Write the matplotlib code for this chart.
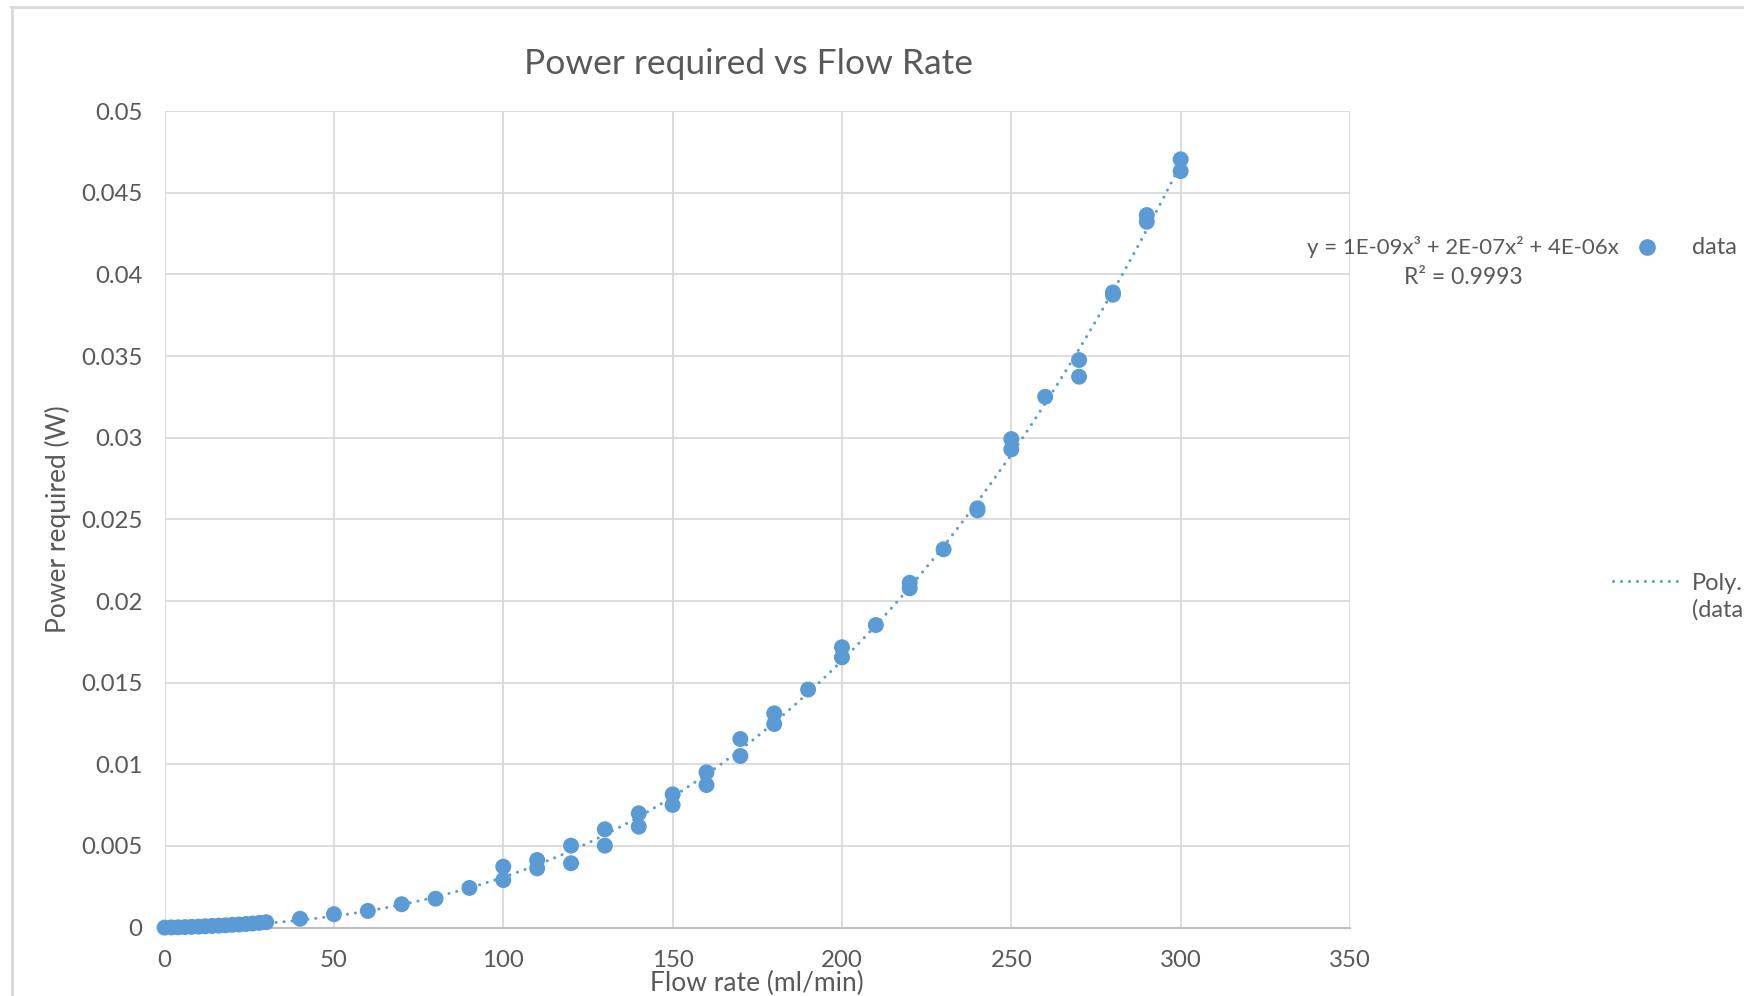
import numpy as np
import matplotlib.pyplot as plt
from matplotlib.lines import Line2D

plt.rcParams['font.family'] = ['Lato', 'DejaVu Sans']

# flow rate (ml/min) and power required (W)
flow = [0, 2, 4, 6, 8, 10, 12, 14, 16, 18, 20, 22, 24, 26, 28, 30,
        40, 50, 60, 70, 80, 90,
        100, 100, 110, 110, 120, 120, 130, 130, 140, 140, 150, 150,
        160, 160, 170, 170, 180, 180, 190, 200, 200, 210, 220, 220,
        230, 240, 240, 250, 250, 260, 270, 270, 280, 280, 290, 290,
        300, 300]
power = [0.0, 0.00001, 0.00002, 0.00003, 0.000045, 0.00006, 0.00008, 0.0001,
         0.00012, 0.00014, 0.00017, 0.00019, 0.00022, 0.00025, 0.00029, 0.00033,
         0.00054, 0.00082, 0.00102, 0.00143, 0.00177, 0.00243,
         0.00373, 0.00291, 0.00414, 0.00363, 0.00502, 0.00394, 0.00602, 0.00502,
         0.0070, 0.00618, 0.00816, 0.00751, 0.00951, 0.00873, 0.01155, 0.01051,
         0.01312, 0.01247, 0.01458, 0.01717, 0.01655, 0.01853, 0.02112, 0.02078,
         0.02317, 0.02568, 0.02555, 0.02992, 0.02929, 0.03251, 0.03476, 0.03374,
         0.03890, 0.03876, 0.04364, 0.04323, 0.04705, 0.04633]

xticks = [0, 50, 100, 150, 200, 250, 300, 350]
yticks = [0, 0.005, 0.01, 0.015, 0.02, 0.025, 0.03, 0.035, 0.04, 0.045, 0.05]

blue = '#5B9BD5'
grey_txt = '#595959'
grid_c = '#D9D9D9'

W, H = 1744, 996
fig = plt.figure(figsize=(W / 100, H / 100), dpi=100)
ax = fig.add_axes([164.6 / W, 1 - 927.6 / H, (1350 - 164.6) / W, (927.6 - 111.2) / H])

# cubic trendline through origin (like Excel's "set intercept = 0")
x = np.array(flow, dtype=float)
y = np.array(power)
A = np.column_stack([x ** 3, x ** 2, x])
coef = np.linalg.lstsq(A, y, rcond=None)[0]
xf = np.linspace(0, 300, 300)
yf = coef[0] * xf ** 3 + coef[1] * xf ** 2 + coef[2] * xf
ax.plot(xf, yf, color=blue, lw=2.2, ls=(0, (0.01, 2.6)), dash_capstyle='round',
        zorder=2)

ax.scatter(flow, power, s=132, color=blue, edgecolors='none', zorder=3,
           clip_on=False)

ax.set_xlim(0, 350)
ax.set_ylim(0, 0.05)
ax.set_xticks(xticks)
ax.set_yticks(yticks)
ax.set_xticklabels([str(t) for t in xticks])
ax.set_yticklabels(['{:g}'.format(t) for t in yticks])
ax.tick_params(length=0, labelsize=17.3, colors=grey_txt, pad=16)
ax.tick_params(axis='x', pad=16)
ax.grid(True, color=grid_c, lw=1.3)
ax.set_axisbelow(True)
for s in ['top', 'right', 'left']:
    ax.spines[s].set_visible(False)
ax.spines['bottom'].set_color('#BFBFBF')
ax.spines['bottom'].set_linewidth(1.5)

fig.text(748 / W, 1 - 64 / H, 'Power required vs Flow Rate', ha='center',
         va='center', fontsize=25.5, color=grey_txt)
fig.text(58 / W, 1 - 519 / H, 'Power required (W)', rotation=90, ha='center',
         va='center', fontsize=19, color=grey_txt)
fig.text(757 / W, 1 - 983 / H, 'Flow rate (ml/min)', ha='center', va='center',
         fontsize=19, color=grey_txt)

# trendline label
fig.text(1619 / W, 1 - 247 / H, 'y = 1E-09x³ + 2E-07x² + 4E-06x', ha='right',
         va='center', fontsize=16, color=grey_txt)
fig.text(1463 / W, 1 - 278 / H, 'R² = 0.9993', ha='center', va='center',
         fontsize=16.5, color=grey_txt)

# legend (manual, right side)
fig.add_artist(Line2D([1647 / W], [1 - 247 / H], marker='o', ms=11,
                      color=blue, ls='none'))
fig.text(1692 / W, 1 - 247 / H, 'data', ha='left', va='center',
         fontsize=17, color=grey_txt)
fig.add_artist(Line2D([1613 / W, 1679 / W], [1 - 581 / H, 1 - 581 / H],
                      color=blue, lw=2.2, ls=(0, (0.01, 2.6)),
                      dash_capstyle='round'))
fig.text(1692 / W, 1 - 597 / H, 'Poly.\n(data)', ha='left', va='center',
         fontsize=17, color=grey_txt, linespacing=1.3)

# chart area border (top and left edges visible)
fig.add_artist(Line2D([11 / W, 1], [1 - 7 / H, 1 - 7 / H], color=grid_c, lw=2))
fig.add_artist(Line2D([12 / W, 12 / W], [0, 1 - 7 / H], color=grid_c, lw=2))

fig.savefig('out.png', dpi=100)
